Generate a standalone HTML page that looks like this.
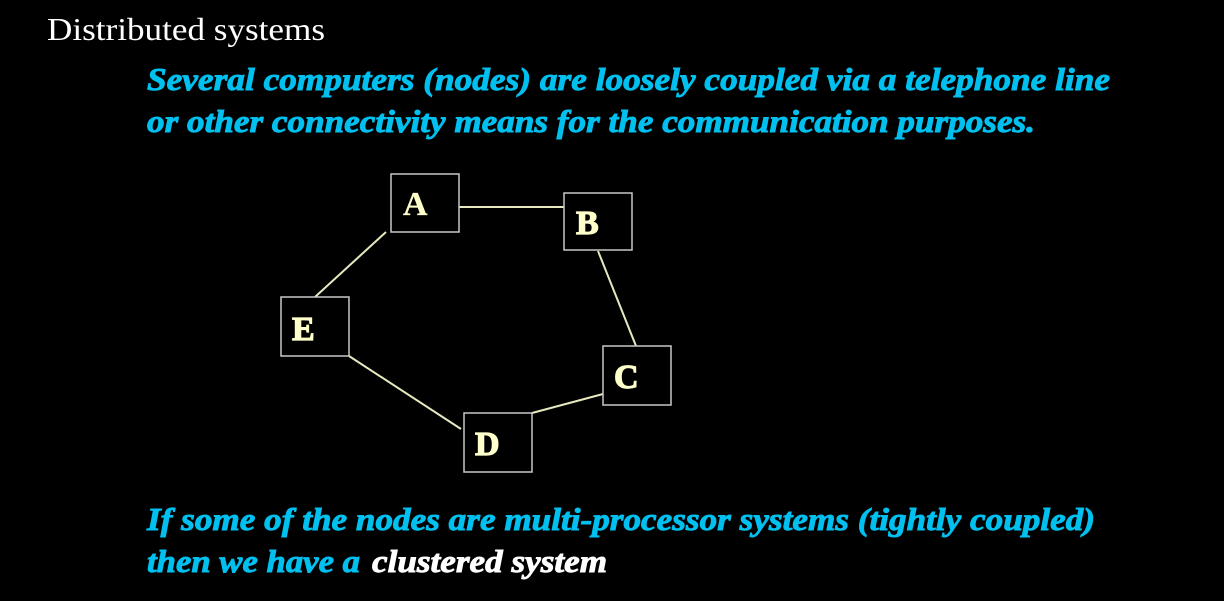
<!DOCTYPE html>
<html><head><meta charset="utf-8"><style>
html,body{margin:0;padding:0;background:#000;width:1224px;height:601px;overflow:hidden}
svg{display:block}
.b{font-family:"Liberation Serif",serif;font-weight:bold;font-style:italic;font-size:32px;fill:#00c0f0;stroke:#00c0f0;stroke-width:0.9}
.n{font-family:"Liberation Serif",serif;font-weight:bold;font-size:34px;fill:#ffffcc;stroke:#ffffcc;stroke-width:1.2}
</style></head><body>
<svg width="1224" height="601">
<rect width="1224" height="601" fill="#000"/>
<text x="47" y="40" font-family="Liberation Serif, serif" font-size="32" fill="#fff" textLength="278" lengthAdjust="spacingAndGlyphs">Distributed systems</text>
<text class="b" x="147" y="90" textLength="963" lengthAdjust="spacingAndGlyphs">Several computers (nodes) are loosely coupled via a telephone line</text>
<text class="b" x="147" y="132" textLength="888" lengthAdjust="spacingAndGlyphs">or other connectivity means for the communication purposes.</text>
<g stroke="#e8e8c0" stroke-width="2">
<line x1="459" y1="207" x2="564" y2="207"/>
<line x1="386" y1="232" x2="315" y2="297"/>
<line x1="598" y1="251" x2="636" y2="346"/>
<line x1="603" y1="394" x2="532" y2="413"/>
<line x1="349" y1="356" x2="461" y2="429"/>
</g>
<g fill="#000" stroke="#c8c8c8" stroke-width="1.5">
<rect x="391" y="174" width="68" height="58"/>
<rect x="564" y="193" width="68" height="57"/>
<rect x="281" y="297" width="68" height="59"/>
<rect x="603" y="346" width="68" height="59"/>
<rect x="464" y="413" width="68" height="59"/>
</g>
<text class="n" x="403" y="215" style="stroke-width:0.3">A</text>
<text class="n" x="576" y="234">B</text>
<text class="n" x="292" y="340">E</text>
<text class="n" x="614" y="388">C</text>
<text class="n" x="475" y="455">D</text>
<text class="b" x="147" y="530" textLength="948" lengthAdjust="spacingAndGlyphs">If some of the nodes are multi-processor systems (tightly coupled)</text>
<text class="b" x="147" y="572" textLength="213" lengthAdjust="spacingAndGlyphs">then we have a</text>
<text class="b" x="372" y="572" textLength="235" lengthAdjust="spacingAndGlyphs" style="fill:#fff;stroke:#fff">clustered system</text>
</svg>
</body></html>
